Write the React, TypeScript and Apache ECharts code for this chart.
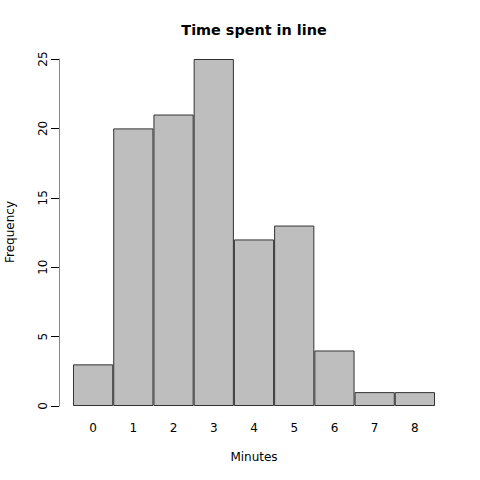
import React, { useEffect, useRef } from "react";
import * as echarts from "echarts";

const categories = ["0", "1", "2", "3", "4", "5", "6", "7", "8"];
const frequencies = [3, 20, 21, 25, 12, 13, 4, 1, 1];
const yTicks = { min: 0, max: 25, interval: 5 };

export default function App() {
  const ref = useRef<HTMLDivElement>(null);
  useEffect(() => {
    const chart = echarts.init(ref.current!, null, { renderer: "svg" });
    const font = "DejaVu Sans";
    chart.setOption({
      animation: false,
      backgroundColor: "#ffffff",
      grid: { left: 73, right: 45, top: 59, bottom: 74 },
      xAxis: {
        type: "category",
        data: categories,
        axisLine: { show: false },
        axisTick: { show: false },
        axisLabel: { color: "#000", fontFamily: font, fontSize: 12, margin: 16 },
      },
      yAxis: {
        type: "value",
        min: yTicks.min,
        max: yTicks.max,
        interval: yTicks.interval,
        offset: 14,
        splitLine: { show: false },
        axisLine: { show: true, lineStyle: { color: "#888", width: 1 } },
        axisTick: { show: true, length: 8, lineStyle: { color: "#000" } },
        axisLabel: { color: "#000", fontFamily: font, fontSize: 12, rotate: 90, margin: 10 },
      },
      series: [
        {
          type: "bar",
          data: frequencies,
          barCategoryGap: "0%",
          itemStyle: { color: "#bebebe", borderColor: "#333", borderWidth: 1 },
        },
      ],
      graphic: [
        {
          type: "text",
          x: 254,
          y: 30,
          style: {
            text: "Time spent in line",
            font: `bold 14.4px ${font}`,
            fill: "#000",
            align: "center",
            verticalAlign: "middle",
          },
        },
        {
          type: "text",
          x: 254,
          y: 457,
          style: {
            text: "Minutes",
            font: `12px ${font}`,
            fill: "#000",
            align: "center",
            verticalAlign: "middle",
          },
        },
        {
          type: "text",
          x: 10,
          y: 232,
          rotation: Math.PI / 2,
          style: {
            text: "Frequency",
            font: `12px ${font}`,
            fill: "#000",
            align: "center",
            verticalAlign: "middle",
          },
        },
      ],
    });
    return () => chart.dispose();
  }, []);
  return (
    <div
      ref={ref}
      style={{ position: "fixed", left: 0, top: 0, width: 480, height: 480 }}
    />
  );
}
